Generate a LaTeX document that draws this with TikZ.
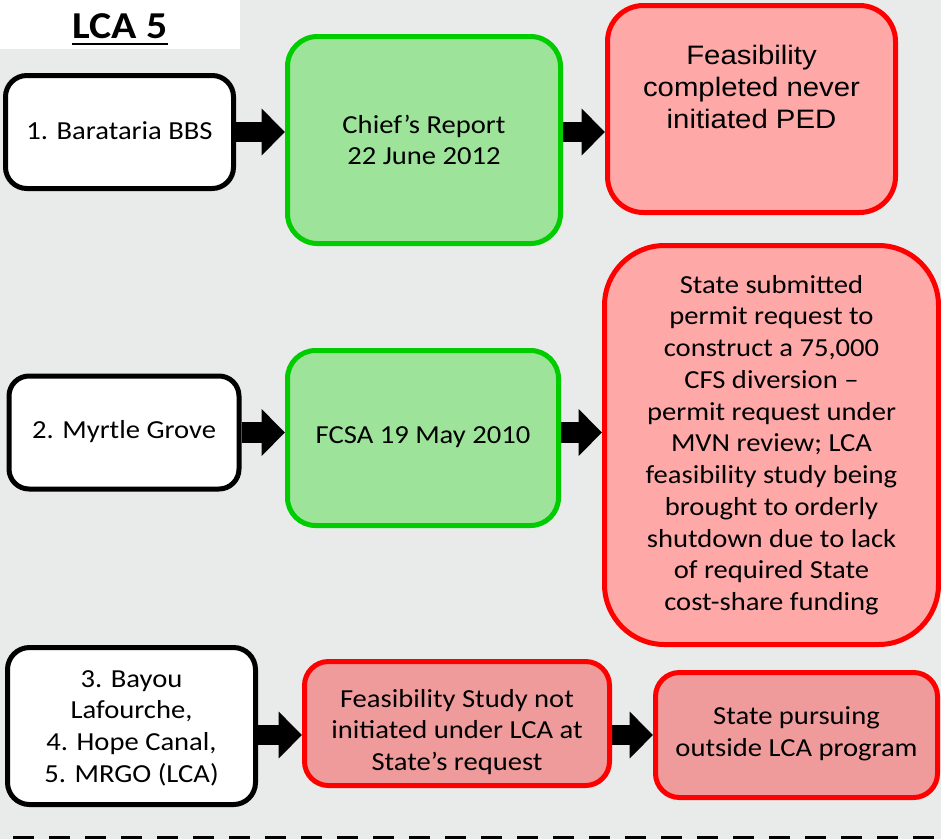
\documentclass[tikz,border=0pt]{standalone}
\usepackage{fontspec}
\setmainfont{Carlito}[FakeStretch=1.1]
\newfontfamily\arialfont{Liberation Sans}[FakeStretch=1.1]
\usetikzlibrary{arrows.meta}

\definecolor{bgcol}{RGB}{232,235,233}
\definecolor{okfill}{RGB}{158,227,154}
\definecolor{okline}{RGB}{0,204,0}
\definecolor{stopfill}{RGB}{255,168,168}
\definecolor{haltfill}{RGB}{240,155,155}
\definecolor{stopline}{RGB}{255,0,0}

\pgfdeclarelayer{bg}
\pgfsetlayers{bg,main}

\tikzset{
  card/.style 2 args={draw, line width=3.75pt, inner sep=0pt,
    minimum width=#1, minimum height=#2},
  plainbox/.style={fill=white, draw=black},
  okbox/.style={fill=okfill, draw=okline},
  stopbox/.style={fill=stopfill, draw=stopline},
  haltbox/.style={fill=haltfill, draw=stopline},
  label/.style={align=center, inner sep=0pt, text=black,
    font=\fontsize{19.5}{23.8}\selectfont},
  blockarrow/.style={draw=black, line width=15.5pt,
    -{Triangle[length=17.5pt, width=34pt]}},
  dashrule/.style={draw=black, line width=2.2pt,
    dash pattern=on 15.75pt off 11.25pt},
}

\begin{document}
\begin{tikzpicture}[x=0.75pt, y=-0.75pt]
  \useasboundingbox (0,0) rectangle (941,839);

  % title with a heavy underline
  \node[label, font=\bfseries\fontsize{28.5}{30}\selectfont, anchor=base]
    (title) at (120,38) {LCA 5};
  \draw[line width=1.8pt] ([yshift=-4.5pt]title.base west)
    -- ([yshift=-4.5pt]title.base east);

  % row 1
  \node[card={171pt}{84.75pt}, plainbox, rounded corners=16pt]
    (b1) at (119.5,132) {};
  \node[card={204.75pt}{155.25pt}, okbox, rounded corners=22.5pt]
    (b2) at (424,140) {};
  \node[card={216pt}{155.25pt}, stopbox, rounded corners=27pt]
    (b3) at (751.5,109) {};

  % row 2
  \node[card={172.5pt}{84.75pt}, plainbox, rounded corners=15pt]
    (b4) at (124,432.5) {};
  \node[card={203.25pt}{131.25pt}, okbox, rounded corners=21pt]
    (b5) at (423,438) {};
  \node[card={250.5pt}{299.25pt}, stopbox, rounded corners=45pt]
    (b6) at (771.5,445) {};

  % row 3
  \node[card={186pt}{117.75pt}, plainbox, rounded corners=16.5pt]
    (b7) at (131.5,726) {};
  \node[card={228.75pt}{93pt}, haltbox, rounded corners=18pt]
    (b8) at (457,723.5) {};
  \node[card={211.5pt}{93.75pt}, haltbox, rounded corners=18pt]
    (b9) at (796.5,735) {};

  % box texts
  \node[label] (t1) at (119.5,131) {1. Barataria BBS};
  \node[label] (t2) at (424,140) {Chief’s Report\\22 June 2012};
  \node[label, font=\arialfont\fontsize{20}{23.8}\selectfont]
    (t3) at (751.5,87) {Feasibility\\completed never\\initiated PED};
  \node[label] (t4) at (124,432) {2. Myrtle Grove};
  \node[label] (t5) at (423,437) {FCSA 19 May 2010};
  \node[label] (t6) at (771.5,445) {State submitted\\permit request to\\construct a 75,000\\CFS diversion –\\permit request under\\MVN review; LCA\\feasibility study being\\brought to orderly\\shutdown due to lack\\of required State\\cost-share funding};
  \node[label] (t7) at (131.5,728) {3. Bayou\\Lafourche,\\4. Hope Canal,\\5. MRGO (LCA)};
  \node[label] (t8) at (457,732) {Feasibility Study not\\initiated under LCA at\\State’s request};
  \node[label] (t9) at (796.5,734) {State pursuing\\outside LCA program};

  \begin{pgfonlayer}{bg}
    \fill[bgcol] (0,0) rectangle (941,839);
    \fill[white] (0,0) rectangle (240,49);
    % connectors
    \draw[blockarrow] (b1.east) -- (b1.east -| b2.west);
    \draw[blockarrow] (b1.east -| b2.east) -- (b1.east -| b3.west);
    \draw[blockarrow] (b4.east) -- (b4.east -| b5.west);
    \draw[blockarrow] (b4.east -| b5.east) -- (b4.east -| b6.west);
    \draw[blockarrow] (b9.west -| b7.east) -- (b9.west -| b8.west);
    \draw[blockarrow] (b9.west -| b8.east) -- (b9.west);
  \end{pgfonlayer}

  % separator at the foot
  \coordinate (ruleL) at (13,837.5);
  \coordinate (ruleR) at (941,837.5);
  \draw[dashrule] (ruleL) -- (ruleR);
\end{tikzpicture}
\end{document}
